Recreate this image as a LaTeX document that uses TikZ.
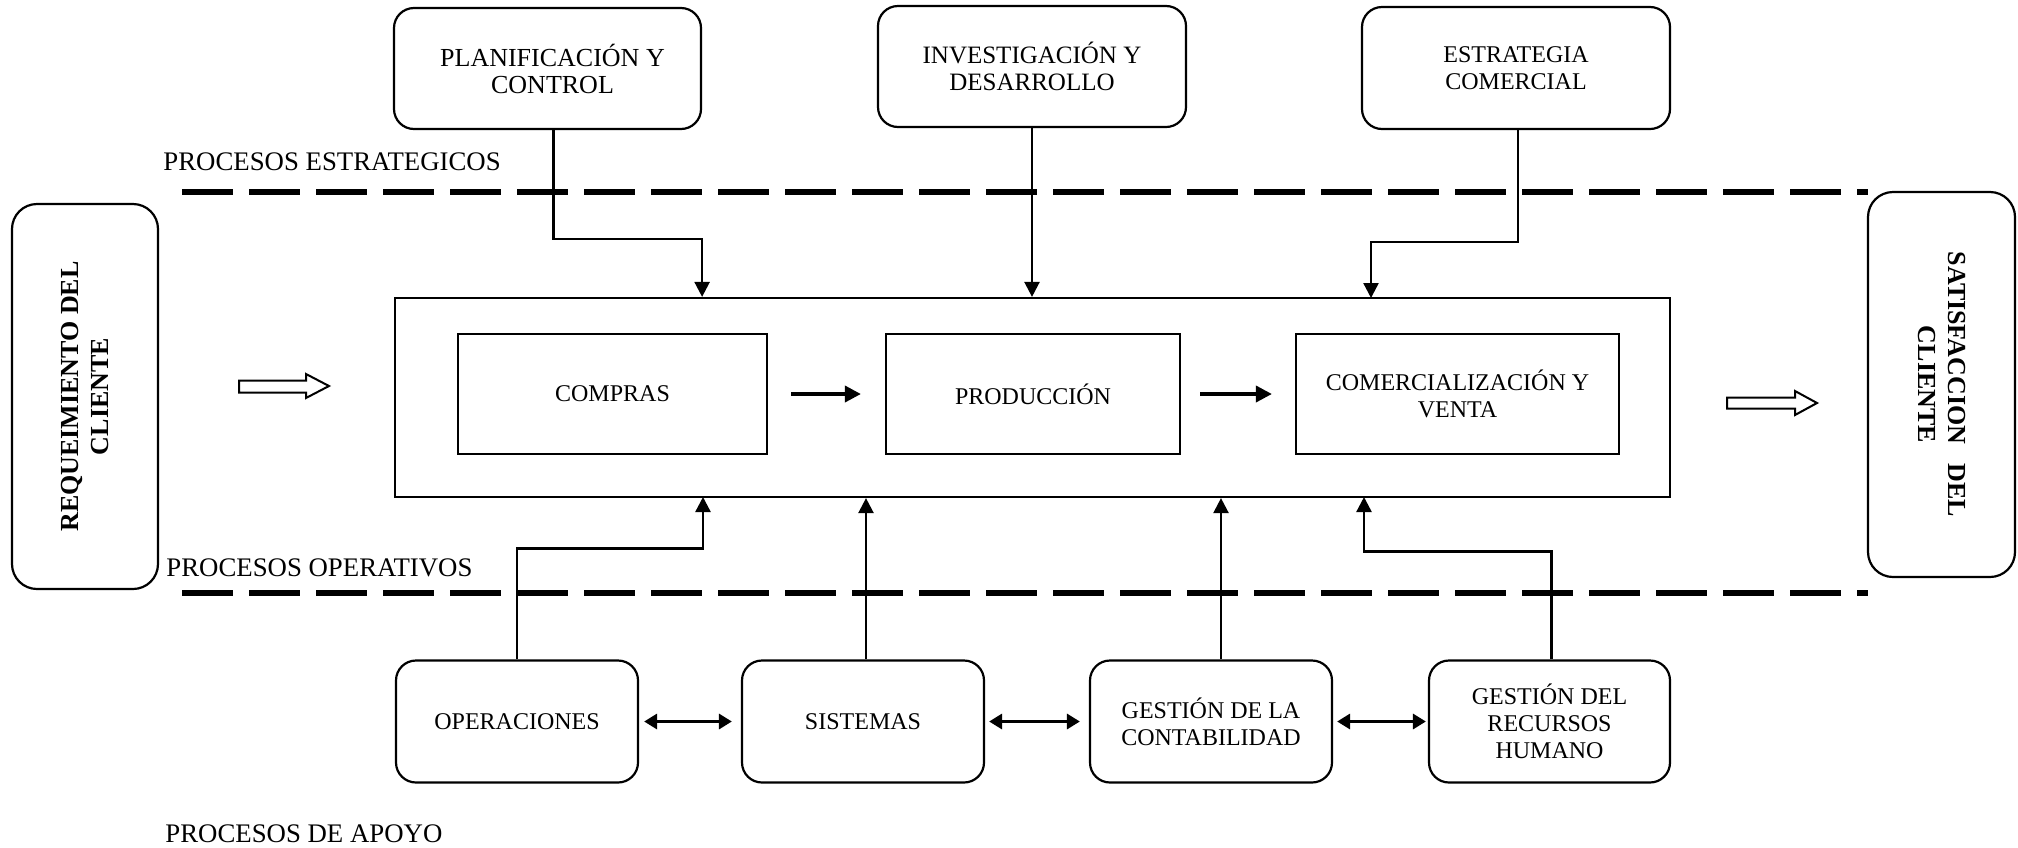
\documentclass[tikz,border=0pt]{standalone}
\usepackage{fontspec}
\setmainfont{Liberation Serif}
\usetikzlibrary{arrows.meta,calc}
\begin{document}
\begin{tikzpicture}[x=0.5pt,y=-0.5pt,
  every node/.style={font=\fontsize{12}{13.5}\selectfont},
  rbox/.style={draw,line width=1.1pt,rounded corners=10pt,align=center,inner sep=0pt},
  sbox/.style={draw,line width=1.1pt,align=center,inner sep=0pt},
  vtext/.style={font=\fontsize{13}{15}\selectfont\bfseries,rounded corners=12.5pt},
  conn/.style={line width=1.2pt,-{Triangle[length=7.5pt,width=7.5pt]}},
  flow/.style={line width=1.8pt,-{Triangle[length=8pt,width=8pt]}},
  link/.style={line width=1.6pt,{Triangle[length=6.5pt,width=7.5pt]}-{Triangle[length=6.5pt,width=7.5pt]}},
  sep/.style={line width=3pt,dash pattern=on 25.5pt off 8pt},
  hollow/.style={draw,line width=1pt,fill=white,line join=miter},
  tag/.style={anchor=west,inner sep=0pt,font=\fontsize{13.4}{15}\selectfont}]
\useasboundingbox (0,0) rectangle (2018,847);

% level separators
\draw[sep] (182,192) -- (1868,192);
\draw[sep] (182,593) -- (1868,593);

% level labels
\node[tag] (lE) at (163,162) {PROCESOS ESTRATEGICOS};
\node[tag] (lO) at (166,568) {PROCESOS OPERATIVOS};
\node[tag] (lA) at (165,834) {PROCESOS DE APOYO};

% strategic processes
\node[rbox,minimum width=153.5pt,minimum height=60.5pt,font=\fontsize{13}{13.5}\selectfont] (plan) at (547.5,68.5) {\hspace*{5pt}PLANIFICACIÓN Y\\\hspace*{5pt}CONTROL};
\node[rbox,minimum width=154pt,minimum height=60.5pt,font=\fontsize{12.5}{13.5}\selectfont] (inv) at (1032,66.5) {INVESTIGACIÓN Y\\DESARROLLO};
\node[rbox,minimum width=154pt,minimum height=61pt] (estr) at (1516,68) {ESTRATEGIA\\COMERCIAL};

% customer ends
\node[rbox,vtext,rotate=90,minimum width=192.5pt,minimum height=73pt] (req) at (85,396.5) {REQUEIMIENTO DEL\\CLIENTE};
\node[rbox,vtext,rotate=-90,minimum width=192.5pt,minimum height=73.5pt] (sat) at (1941.5,384.5) {SATISFACCION\ \ \ DEL\\CLIENTE};

% operative processes
\node[sbox,minimum width=637.5pt,minimum height=99.5pt] (main) at (1032.5,397.5) {};
\node[sbox,minimum width=154.5pt,minimum height=60pt] (compras) at (612.5,394) {COMPRAS};
\node[sbox,minimum width=147pt,minimum height=60pt] (prod) at (1033,394) {PRODUCCIÓN};
\node[sbox,minimum width=161.5pt,minimum height=60pt] (comer) at (1457.5,394) {COMERCIALIZACIÓN Y\\VENTA};

% support processes
\node[rbox,minimum width=121pt,minimum height=61pt] (oper) at (517,721.5) {OPERACIONES};
\node[rbox,minimum width=121pt,minimum height=61pt] (sist) at (863,721.5) {SISTEMAS};
\node[rbox,minimum width=121pt,minimum height=61pt] (cont) at (1211,721.5) {GESTIÓN DE LA\\CONTABILIDAD};
\node[rbox,minimum width=120.5pt,minimum height=61pt] (rrhh) at (1549.5,721.5) {GESTIÓN DEL\\RECURSOS\\HUMANO};

% flow inside the operative block
\draw[flow,shorten <=11.5pt,shorten >=12pt] (compras.east) -- (prod.west);
\draw[flow,shorten <=9.5pt,shorten >=11.5pt] (prod.east) -- (comer.west);

% links between support processes
\draw[link,shorten <=2.5pt,shorten >=4.5pt] (oper.east) -- (sist.west);
\draw[link,shorten <=2pt,shorten >=4.5pt] (sist.east) -- (cont.west);
\draw[link,shorten <=2pt,shorten >=1pt] (cont.east) -- (rrhh.west);

% strategic inputs
\coordinate (tE) at (1371,298);
\draw[conn] ([xshift=3pt]plan.south) -- ++(0,109) -| (main.north -| plan.east);
\draw[conn] (inv.south) -- (inv.south |- main.north);
\draw[conn] ([xshift=1pt]estr.south) -- ++(0,112) -| (tE);

% support inputs
\coordinate (bO) at (703,497);
\coordinate (bR) at (1364,497);
\draw[conn] (oper.north) -- ++(0,-111) -| (bO);
\draw[conn] ([xshift=1.5pt]sist.north) -- ([xshift=1.5pt]sist.north |- main.south);
\draw[conn] ([xshift=5pt]cont.north) -- ([xshift=5pt]cont.north |- main.south);
\draw[conn] ([xshift=1pt]rrhh.north) -- ++(0,-108) -| (bR);

% hollow block arrows
\draw[hollow] (239,380.5) -- (306,380.5) -- (306,374) -- (329,386) -- (306,398) -- (306,392.5) -- (239,392.5) -- cycle;
\draw[hollow] (1727,397.5) -- (1795,397.5) -- (1795,391) -- (1817,403) -- (1795,415) -- (1795,408.5) -- (1727,408.5) -- cycle;
\end{tikzpicture}
\end{document}
